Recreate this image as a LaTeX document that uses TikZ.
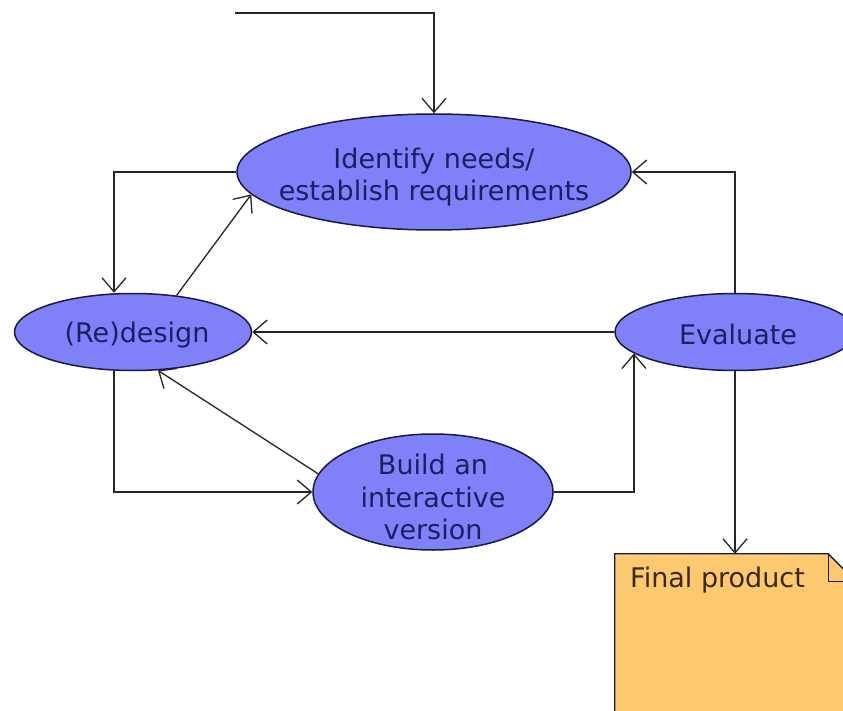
\documentclass[tikz,border=0pt]{standalone}
\usepackage{fontspec}
\setmainfont{DejaVu Sans}
\usetikzlibrary{shapes.geometric,arrows.meta,calc}
\definecolor{efill}{RGB}{128,128,248}
\definecolor{eline}{RGB}{25,25,70}
\definecolor{etext}{RGB}{30,30,100}
\definecolor{nfill}{RGB}{252,200,112}
\definecolor{ntext}{RGB}{60,40,10}
\begin{document}
\begin{tikzpicture}[x=1pt,y=-1pt,
  state/.style={ellipse, draw=eline, line width=1.5pt, fill=efill, inner sep=0pt},
  stext/.style={text=etext, inner sep=0pt, align=center, font=\fontsize{27}{32.5}\selectfont},
  ntxt/.style={text=ntext, inner sep=0pt, font=\fontsize{27}{32.5}\selectfont},
  arr/.style={draw=black!85, line width=1.3pt, -{Straight Barb[length=14pt,width=24pt,line width=1.3pt]}}]
\clip (0,0) rectangle (843,711);
\fill[white] (0,0) rectangle (843,711);

% nodes
\node[state, minimum width=394, minimum height=116] (idn) at (434,172) {};
\node[stext] (idnt) at (434,177) {Identify needs/\\establish requirements};
\node[state, minimum width=237, minimum height=77] (red) at (133,332) {};
\node[stext] (redt) at (137,335) {(Re)design};
\node[state, minimum width=240, minimum height=77] (eva) at (735,332) {};
\node[stext] (evat) at (738,334) {Evaluate};
\node[state, minimum width=240, minimum height=116] (bld) at (433,492) {};
\node[stext] (bldt) at (433,497) {Build an\\interactive\\version};

% note
\node[inner sep=0pt, minimum width=241, minimum height=186] (note) at (735.5,647) {};
\filldraw[fill=nfill, draw=eline, line width=1.3pt]
  (note.north west) -- ($(note.north east)+(-28,0)$) -- ($(note.north east)+(0,28)$)
  -- (note.south east) -- (note.south west) -- cycle;
\draw[eline, line width=1.3pt] ($(note.north east)+(-28,0)$) -- ($(note.north east)+(-28,28)$) -- ($(note.north east)+(0,28)$);
\node[ntxt, anchor=base west] (notet) at (630,587) {Final product};

% connectors
\coordinate (start) at (235,13);
\draw[arr] (start) -| (idn.north);
\draw[arr] (idn.west) -| ($(red.north)+(-19,0)$);
\draw[arr] (red.40) -- (idn.187);
\draw[arr] (eva.north) |- (idn.east);
\draw[arr] (eva.west) -- (red.east);
\draw[arr] ($(red.south)+(-19,0)$) |- (bld.west);
\draw[arr] (bld.171) -- (red.-57);
\draw[arr] (bld.east) -| (eva.192);
\draw[arr] (eva.south) -- (eva.south |- note.north);
\end{tikzpicture}
\end{document}
